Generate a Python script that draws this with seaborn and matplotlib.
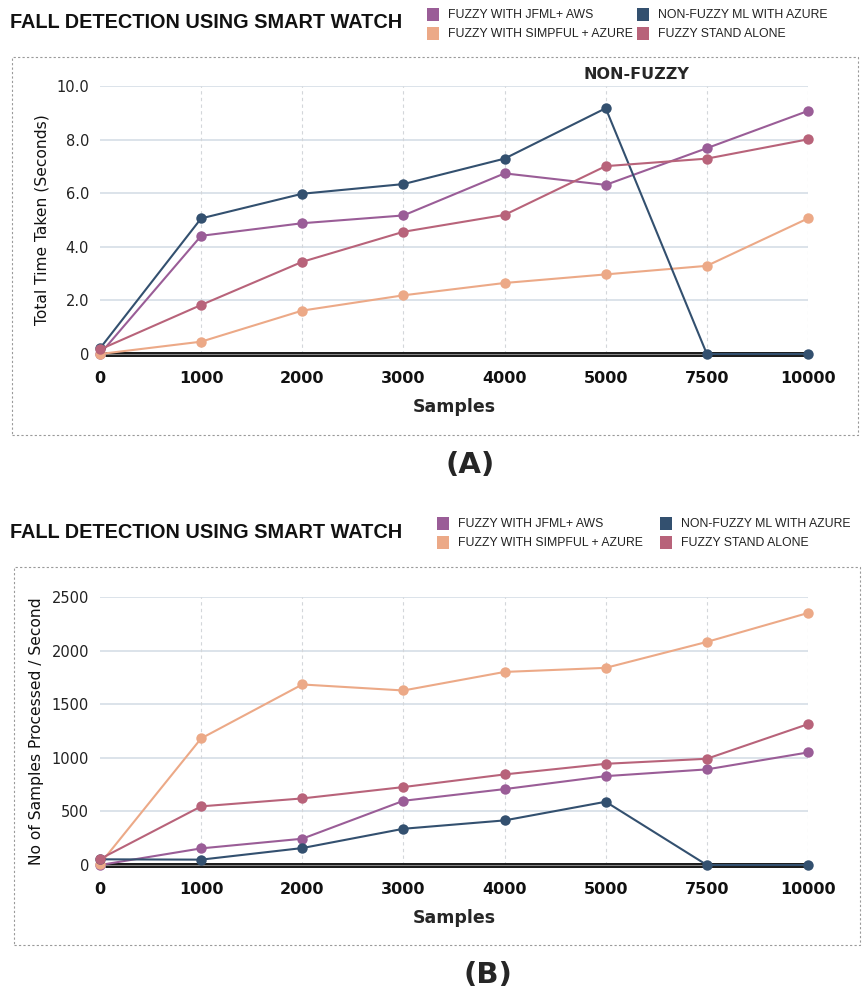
import matplotlib
matplotlib.use("Agg")
import matplotlib.pyplot as plt
from matplotlib.patches import Patch, Rectangle
import pandas as pd
import seaborn as sns

# Sample sizes on the x axis
samples = ["0", "1000", "2000", "3000", "4000", "5000", "7500", "10000"]

series_names = [
    "FUZZY WITH JFML+ AWS",
    "FUZZY WITH SIMPFUL + AZURE",
    "NON-FUZZY ML WITH AZURE",
    "FUZZY STAND ALONE",
]

# (A) total time taken, seconds
time_jfml_aws = [0.0, 4.41, 4.88, 5.17, 6.74, 6.31, 7.68, 9.07]
time_simpful_azure = [0.0, 0.46, 1.62, 2.19, 2.65, 2.97, 3.29, 5.06]
time_nonfuzzy_azure = [0.21, 5.06, 5.98, 6.34, 7.29, 9.17, 0.0, 0.0]
time_standalone = [0.17, 1.83, 3.44, 4.56, 5.19, 7.01, 7.29, 8.01]

# (B) throughput, samples processed per second
rate_jfml_aws = [0, 155, 245, 599, 708, 829, 892, 1050]
rate_simpful_azure = [10, 1181, 1684, 1628, 1801, 1839, 2081, 2351]
rate_nonfuzzy_azure = [53, 50, 158, 338, 416, 590, 0, 0]
rate_standalone = [56, 547, 621, 727, 845, 944, 991, 1314]

time_ticks = ["0", "2.0", "4.0", "6.0", "8.0", "10.0"]
rate_ticks = ["0", "500", "1000", "1500", "2000", "2500"]

colors = ["#9a5d97", "#eca987", "#33506f", "#b8637a"]
palette = dict(zip(series_names, colors))

HEAD_FONT = ["Liberation Sans", "DejaVu Sans"]


def long_frame(values):
    rows = []
    for name, vals in zip(series_names, values):
        for i, v in enumerate(vals):
            rows.append({"pos": i, "value": v, "series": name})
    return pd.DataFrame(rows)


sns.set_theme(style="white")
plt.rcParams["font.family"] = ["DejaVu Sans"]

W, H = 866, 997
fig = plt.figure(figsize=(W / 100, H / 100), dpi=100)


def fx(px):
    return px / W


def fy(py):
    return 1 - py / H


def legend_column(names, cols, x_px, y_px):
    handles = [Patch(facecolor=c, edgecolor="none") for c in cols]
    leg = fig.legend(handles, names, loc="center left",
                     bbox_to_anchor=(fx(x_px), fy(y_px)), frameon=False,
                     borderpad=0, borderaxespad=0,
                     handlelength=0.95, handleheight=1.25, handletextpad=0.75,
                     labelspacing=0.45,
                     prop={"family": HEAD_FONT, "size": 8.8})
    for t in leg.get_texts():
        t.set_color("#222222")
    return leg


def panel(top_px, zero_px, values, ymax, ticks, ylabel, title_y, leg_y,
          leg_x1, leg_x2, box, tag, tag_xy, xlabel_pad):
    ax = fig.add_axes([fx(100), fy(zero_px), fx(808) - fx(100),
                       fy(top_px) - fy(zero_px)])
    df = long_frame(values)
    sns.lineplot(data=df, x="pos", y="value", hue="series", palette=palette,
                 hue_order=series_names, marker="o", markersize=7.5,
                 markeredgewidth=0, linewidth=1.5, ax=ax, legend=False,
                 clip_on=False, zorder=5)
    ax.set_xlim(0, 7)
    ax.set_ylim(0, ymax)
    ax.set_yticks([ymax * i / 5 for i in range(6)])
    ax.set_yticklabels(ticks, fontsize=10.5, color="#222222")
    ax.set_xticks(range(len(samples)))
    ax.set_xticklabels(samples, fontsize=11.5, fontweight="bold",
                       color="#111111")
    ax.tick_params(axis="y", length=0, pad=8)
    ax.tick_params(axis="x", length=0, pad=12)
    for s in ax.spines.values():
        s.set_visible(False)
    # horizontal grid
    for i in range(1, 6):
        ax.axhline(ymax * i / 5, color="#d6dee6", lw=1.2, zorder=1)
    # vertical dashed guides
    for i in range(1, 8):
        ax.axvline(i, color="#d3d6da", lw=0.8, ls=(0, (3, 3)), zorder=1)
    # double base line
    ax.hlines(0, 0.05, 7, color="#1e1e1e", lw=3.6, zorder=3, clip_on=False)
    ax.hlines(0, 0.05, 7, color="#8a8a8a", lw=0.7, zorder=3, clip_on=False)
    ax.set_xlabel("Samples", fontsize=12.5, fontweight="bold",
                  labelpad=xlabel_pad)
    ax.set_ylabel(ylabel, fontsize=11.2, color="#111111", labelpad=5)

    fig.text(fx(10), fy(title_y), "FALL DETECTION USING SMART WATCH",
             fontsize=14.3, fontweight="bold", va="center", ha="left",
             family=HEAD_FONT, color="#111111")
    legend_column(series_names[:2], colors[:2], leg_x1, leg_y)
    legend_column(series_names[2:], colors[2:], leg_x2, leg_y)

    x0, y0, x1, y1 = box
    fig.patches.append(Rectangle((fx(x0), fy(y1)), fx(x1) - fx(x0),
                                 fy(y0) - fy(y1), transform=fig.transFigure,
                                 fill=False, ec="#9a9a9a", lw=0.8,
                                 ls=(0, (2, 2))))
    fig.text(fx(tag_xy[0]), fy(tag_xy[1]), tag, fontsize=21,
             fontweight="bold", ha="center", va="center")
    return ax


ax_a = panel(86, 354,
             [time_jfml_aws, time_simpful_azure, time_nonfuzzy_azure,
              time_standalone],
             10, time_ticks, "Total Time Taken (Seconds)",
             22, 24, 427, 637, (12, 57, 858, 435), "(A)", (470, 465), 9)
ax_a.text(5.3, 10.15, "NON-FUZZY", fontsize=11.5, fontweight="bold",
          ha="center", va="bottom")

ax_b = panel(597, 865,
             [rate_jfml_aws, rate_simpful_azure, rate_nonfuzzy_azure,
              rate_standalone],
             2500, rate_ticks, "No of Samples Processed / Second",
             532, 533, 437, 660, (14, 567, 860, 945), "(B)", (488, 975), 9)

fig.savefig("out.png", dpi=100)
